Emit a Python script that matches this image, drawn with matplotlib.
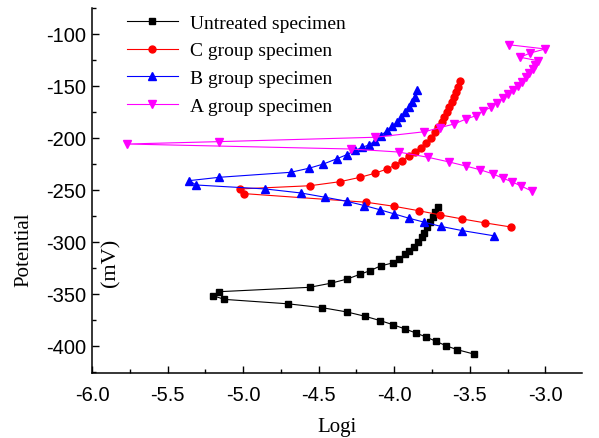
import matplotlib
matplotlib.use("Agg")
import matplotlib.pyplot as plt
from matplotlib.ticker import MultipleLocator

plt.rcParams["axes.unicode_minus"] = False

# polarization curves: log of current density vs potential (mV)
untreated_x = [-3.707, -3.728, -3.746, -3.76, -3.784, -3.80, -3.816, -3.84, -3.87, -3.90,
               -3.93, -3.965, -4.005, -4.09, -4.16, -4.225, -4.31, -4.417, -4.56,
               -5.157, -5.20, -5.124, -4.70, -4.476, -4.313, -4.192, -4.093, -4.009,
               -3.927, -3.857, -3.79, -3.724, -3.658, -3.585, -3.475]
untreated_y = [-266.6, -271, -276, -281, -286, -291, -295.5, -300, -305, -309,
               -312, -316, -320, -323, -327.6, -331, -335.6, -339.6, -343.6,
               -347.8, -351.6, -355.2, -359.5, -363.2, -367.3, -371.5, -375.6, -379.5,
               -383.7, -387.5, -391.3, -395.5, -399.7, -403.5, -407.7]

c_x = [-3.567, -3.578, -3.59, -3.603, -3.618, -3.634, -3.651, -3.669, -3.684, -3.707,
       -3.728, -3.757, -3.79, -3.825, -3.862, -3.905, -3.95, -3.993, -4.05, -4.13,
       -4.225, -4.358, -4.556, -5.02, -4.993, -4.185, -4.0, -3.839, -3.695, -3.548,
       -3.397, -3.227]
c_y = [-145.5, -151, -156, -161, -165.7, -170.5, -175.3, -180, -185, -189.7,
       -194.5, -200, -205, -209.5, -213.5, -217.6, -221.8, -226, -230, -234,
       -237.8, -242, -245.9, -249, -253.5, -261.8, -265.7, -269.9, -274, -277.9,
       -281.7, -285.6]

b_x = [-3.85, -3.861, -3.883, -3.905, -3.927, -3.956, -3.982, -4.015, -4.049, -4.088,
       -4.126, -4.166, -4.214, -4.258, -4.313, -4.38, -4.468, -4.561, -4.685,
       -5.157, -5.356, -5.311, -4.854, -4.616, -4.457, -4.313, -4.197, -4.097,
       -4.0, -3.901, -3.801, -3.691, -3.552, -3.342]
b_y = [-153.5, -160.9, -165.7, -170.5, -175.3, -180, -185, -188.8, -193, -197.8,
       -202.6, -206.7, -209, -212, -216, -220, -225, -229, -233,
       -237.8, -241, -245.2, -249, -252.9, -257, -260.9, -265, -268.9,
       -273, -277.2, -281, -285, -289, -294]

a_x = [-3.243, -3.0, -3.1, -3.166, -3.051, -3.066, -3.084, -3.106, -3.128, -3.155,
       -3.183, -3.214, -3.247, -3.28, -3.32, -3.358, -3.409, -3.457, -3.523, -3.603,
       -3.695, -3.80, -4.126, -5.157, -5.77, -4.285, -3.971, -3.775, -3.638, -3.525,
       -3.43, -3.345, -3.283, -3.218, -3.16, -3.09]
a_y = [-110.3, -114.4, -118.3, -122.4, -125.6, -129.8, -133.7, -137.5, -141.7, -145.8,
       -149.7, -153.5, -157.7, -161.9, -166.3, -170.5, -173.7, -178.5, -181.7, -186.5,
       -190, -194, -199.3, -203.5, -205.8, -210.6, -213.5, -218.6, -223, -227,
       -230.6, -234.6, -238.5, -242.3, -246.2, -251]

labels = ["Untreated specimen", "C group specimen", "B group specimen", "A group specimen"]

serif = "Liberation Serif"
sans = "Liberation Sans"

fig = plt.figure(figsize=(5.99, 4.39), dpi=100)
ax = fig.add_axes([92 / 599, 65 / 439, 490 / 599, 365 / 439])

ax.plot(untreated_x, untreated_y, color="black", marker="s", ms=4.5, lw=0.8, label=labels[0])
ax.plot(c_x, c_y, color="red", marker="o", ms=5, lw=0.8, label=labels[1])
ax.plot(b_x, b_y, color="blue", marker="^", ms=5.5, lw=0.8, label=labels[2])
ax.plot(a_x, a_y, color="magenta", marker="v", ms=5.5, lw=0.8, label=labels[3])

ax.set_xlim(-6.0, -2.757)
ax.set_ylim(-426, -75)
ax.xaxis.set_major_locator(MultipleLocator(0.5))
ax.xaxis.set_minor_locator(MultipleLocator(0.25))
ax.yaxis.set_major_locator(MultipleLocator(50))
ax.yaxis.set_minor_locator(MultipleLocator(25))
ax.xaxis.set_major_formatter(plt.FormatStrFormatter("%.1f"))

for side in ["top", "right"]:
    ax.spines[side].set_visible(False)
for side in ["left", "bottom"]:
    ax.spines[side].set_linewidth(1.1)

ax.tick_params(which="both", direction="in", width=1.0)
ax.tick_params(which="major", length=5)
ax.tick_params(which="minor", length=3)
ax.tick_params(axis="x", pad=9)
ax.tick_params(axis="y", pad=4)
for t in ax.get_xticklabels() + ax.get_yticklabels():
    t.set_fontfamily(sans)
    t.set_fontsize(14.5)

ax.set_xlabel("Logi", fontfamily=serif, fontsize=15, labelpad=9)
fig.text(24 / 599, 1 - 250 / 439, "Potential", rotation=90, fontfamily=serif,
         fontsize=15, ha="center", va="center")
fig.text(111 / 599, 1 - 263 / 439, "(mV)", rotation=90, fontfamily=serif,
         fontsize=16, ha="center", va="center")

leg = ax.legend(loc="upper left", bbox_to_anchor=(127 / 599, 1 - 15 / 439),
                bbox_transform=fig.transFigure, frameon=False, borderpad=0,
                borderaxespad=0, handlelength=2.6, handletextpad=0.65,
                labelspacing=0.52, prop={"family": serif, "size": 14})

fig.savefig("out.png", dpi=100)
